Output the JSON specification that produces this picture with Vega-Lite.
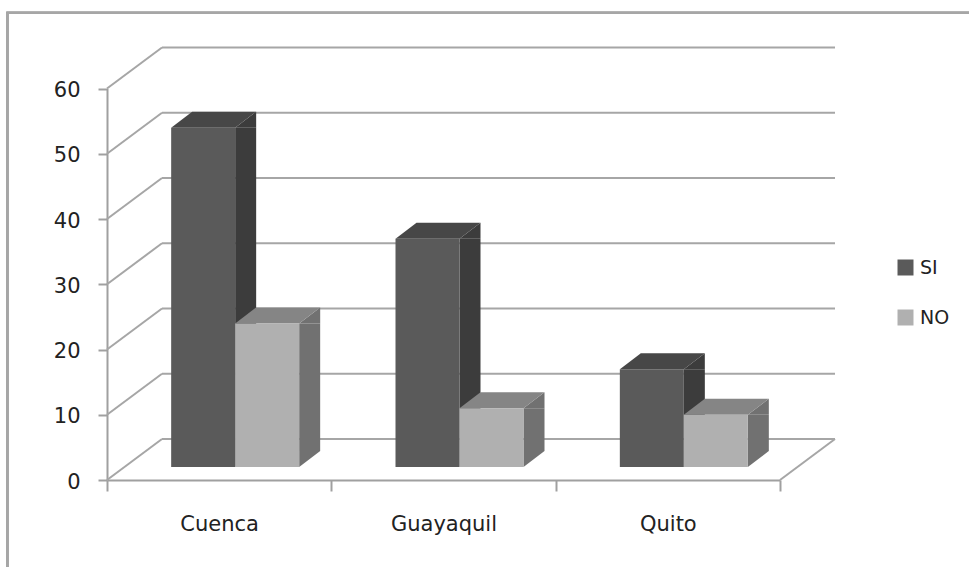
{
"$schema":"https://vega.github.io/schema/vega-lite/v6.json",
"width":969,"height":567,"padding":0,"autosize":"none","background":"white",
"view":{"stroke":null},
"config":{"font":"DejaVu Sans"},
"datasets":{
"niveles":[{"nivel":0},{"nivel":10},{"nivel":20},{"nivel":30},{"nivel":40},{"nivel":50},{"nivel":60}],
"barras":[
{"ciudad":"Cuenca","serie":"SI","valor":52},{"ciudad":"Cuenca","serie":"NO","valor":22},
{"ciudad":"Guayaquil","serie":"SI","valor":35},{"ciudad":"Guayaquil","serie":"NO","valor":9},
{"ciudad":"Quito","serie":"SI","valor":15},{"ciudad":"Quito","serie":"NO","valor":8}]
},
"resolve":{"scale":{"x":"independent","y":"independent","xOffset":"independent"},"axis":{"x":"independent","y":"independent"}},
"layer":[
{
"data":{"name":"niveles"},
"layer":[
{"mark":{"type":"rect","filled":false,"stroke":"#a6a6a6","strokeWidth":2},
"encoding":{"x":{"datum":-0.444,"type":"quantitative","axis":null,"scale":{"domain":[0,3],"range":[107,780]}},"x2":{"datum":3.9},"y":{"datum":71.6,"type":"quantitative","scale":{"domain":[0,60],"range":[480,88.5]}},"y2":{"datum":-14}}},
{"mark":{"type":"rule","color":"#a6a6a6","strokeWidth":2,"x2Offset":55,"y2Offset":-41},
"encoding":{"x":{"datum":0,"type":"quantitative","axis":null,"scale":{"domain":[0,3],"range":[107,780]}},"x2":{"datum":0},
"y":{"field":"nivel","type":"quantitative","scale":{"domain":[0,60],"range":[480,88.5]},
"axis":{"orient":"left","offset":-107,"values":[0,10,20,30,40,50,60],"grid":false,"title":null,"domainColor":"#a0a0a0","domainWidth":2,"tickColor":"#a0a0a0","tickWidth":2,"tickSize":9,"labelFontSize":21,"labelColor":"#222222","labelPadding":18,"labelOffset":2}},
"y2":{"field":"nivel"}}},
{"mark":{"type":"rule","color":"#a6a6a6","strokeWidth":2,"xOffset":55,"x2Offset":55,"yOffset":-41},
"encoding":{"x":{"datum":0,"type":"quantitative","axis":null,"scale":{"domain":[0,3],"range":[107,780]}},"x2":{"datum":3},
"y":{"field":"nivel","type":"quantitative","scale":{"domain":[0,60],"range":[480,88.5]}}}},
{"transform":[{"filter":"datum.nivel === 0"}],
"mark":{"type":"rule","color":"#a6a6a6","strokeWidth":2,"x2Offset":55,"y2Offset":-41},
"encoding":{"x":{"datum":3,"type":"quantitative","axis":null,"scale":{"domain":[0,3],"range":[107,780]}},"x2":{"datum":3},
"y":{"field":"nivel","type":"quantitative","scale":{"domain":[0,60],"range":[480,88.5]}},"y2":{"field":"nivel"}}}
]
},
{
"data":{"name":"barras"},
"mark":{"type":"tick","opacity":0},
"encoding":{"x":{"field":"ciudad","type":"nominal","scale":{"domain":["Cuenca","Guayaquil","Quito"],"range":[107,780],"paddingInner":0,"paddingOuter":0},
"axis":{"orient":"bottom","offset":-87,"title":null,"tickBand":"extent","labelAngle":0,"domainColor":"#a0a0a0","domainWidth":2,"tickColor":"#a0a0a0","tickWidth":2,"tickSize":11,"labelFontSize":21,"labelColor":"#222222","labelPadding":22}}}
},
{
"data":{"name":"barras"},
"mark":{"type":"rule","strokeWidth":21},
"encoding":{"x":{"field":"ciudad","type":"nominal","axis":null,"scale":{"domain":["Cuenca","Guayaquil","Quito"],"range":[165.5,838.5],"paddingInner":0,"paddingOuter":0}},
"xOffset":{"field":"serie","type":"nominal","scale":{"domain":["SI","NO"],"paddingInner":0,"paddingOuter":0.7526}},
"y":{"field":"valor","type":"quantitative","axis":null,"scale":{"domain":[0,60],"range":[467,75.5]}},"y2":{"datum":2.45},
"color":{"condition":{"test":"datum.serie === 'SI'","value":"#3c3c3c"},"value":"#717171"}}
},
{
"data":{"name":"barras"},
"layer":[
{"mark":{"type":"point","filled":true,"opacity":1,"size":4,"strokeWidth":0,"shape":"M32,0L53,-16L32,-16Z"},
"encoding":{"x":{"field":"ciudad","type":"nominal","axis":null,"scale":{"domain":["Cuenca","Guayaquil","Quito"],"range":[123,796],"paddingInner":0,"paddingOuter":0}},
"xOffset":{"field":"serie","type":"nominal","scale":{"domain":["SI","NO"],"paddingInner":0,"paddingOuter":0.7526}},
"y":{"datum":0,"type":"quantitative","axis":null,"scale":{"domain":[0,60],"range":[467,75.5]}},
"color":{"condition":{"test":"datum.serie === 'SI'","value":"#3c3c3c"},"value":"#717171"}}},
{"mark":{"type":"point","filled":true,"opacity":1,"size":4,"strokeWidth":0,"shape":"M32,0L53,-16L53,0Z"},
"encoding":{"x":{"field":"ciudad","type":"nominal","axis":null},"xOffset":{"field":"serie","type":"nominal"},
"y":{"field":"valor","type":"quantitative","axis":null},
"color":{"condition":{"test":"datum.serie === 'SI'","value":"#3c3c3c"},"value":"#717171"}}},
{"mark":{"type":"point","filled":true,"opacity":1,"size":4,"strokeWidth":0,"shape":"M-32,0L32,0L53,-16L-11,-16Z"},
"encoding":{"x":{"field":"ciudad","type":"nominal","axis":null},"xOffset":{"field":"serie","type":"nominal"},
"y":{"field":"valor","type":"quantitative","axis":null},
"color":{"condition":{"test":"datum.serie === 'SI'","value":"#474747"},"value":"#858585"}}},
{"mark":{"type":"bar"},
"encoding":{"x":{"field":"ciudad","type":"nominal","axis":null},"xOffset":{"field":"serie","type":"nominal"},
"y":{"field":"valor","type":"quantitative","axis":null},"y2":{"datum":0},
"color":{"field":"serie","type":"nominal","scale":{"domain":["SI","NO"],"range":["#5a5a5a","#b0b0b0"]},
"legend":{"orient":"none","legendX":896,"legendY":258,"title":null,"symbolType":"square","symbolSize":256,"symbolStrokeWidth":0,"symbolOpacity":1,"labelFontSize":19,"labelColor":"#222222","rowPadding":30,"labelOffset":5}}}}
]
}
]
}
